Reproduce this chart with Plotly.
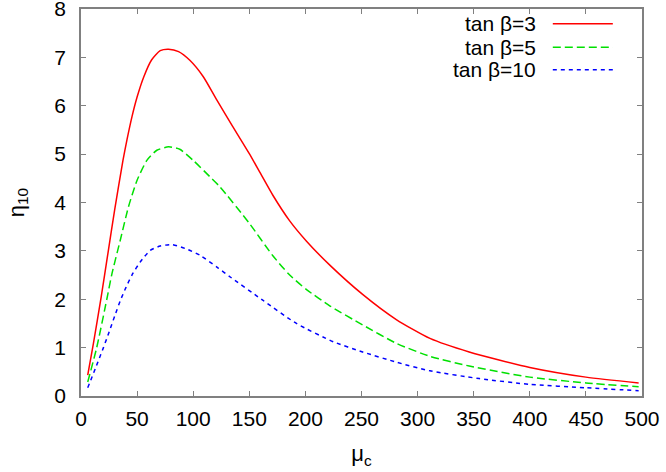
import plotly.graph_objects as go

FONT = "Liberation Sans, Arial, sans-serif"

# tan(beta) = 3
mu_3 = [6, 11, 18, 24, 30, 37.4, 41, 45.4, 50, 56, 63, 70.6, 78, 87, 97, 109, 121,
        135, 150, 160, 171, 186, 201, 222, 251, 281, 311, 346, 400, 450, 497]
eta_3 = [0.43, 1.08, 2.05, 2.95, 3.85, 4.87, 5.30, 5.77, 6.18, 6.60, 6.95, 7.14, 7.17,
         7.12, 6.94, 6.60, 6.12, 5.58, 5.01, 4.60, 4.15, 3.62, 3.20, 2.70, 2.10,
         1.58, 1.19, 0.91, 0.59, 0.39, 0.27]

# tan(beta) = 5
mu_5 = [6, 14, 23, 27.6, 35, 42.3, 50, 58.7, 67.6, 78, 88, 100, 115, 124, 150,
        171, 186, 201, 222, 251, 281, 311, 346, 400, 450, 497]
eta_5 = [0.29, 1.0, 2.0, 2.53, 3.22, 3.91, 4.46, 4.87, 5.08, 5.15, 5.10, 4.87,
         4.53, 4.32, 3.57, 2.90, 2.50, 2.20, 1.86, 1.47, 1.09, 0.82, 0.62, 0.39,
         0.27, 0.19]

# tan(beta) = 10
mu_10 = [6, 15, 20, 25, 30, 35, 40, 45.4, 52.8, 61.7, 70.6, 81, 92.8, 106, 122,
         133, 162, 192, 225, 251, 281, 311, 355, 400, 450, 497]
eta_10 = [0.17, 0.70, 1.0, 1.32, 1.65, 1.97, 2.24, 2.50, 2.77, 3.01, 3.10, 3.13,
          3.05, 2.91, 2.65, 2.46, 1.98, 1.50, 1.12, 0.91, 0.70, 0.52, 0.36, 0.24,
          0.17, 0.11]

names = ["tan β=3", "tan β=5", "tan β=10"]
colors = ["#ff0000", "#00e000", "#0000ff"]
dashes = ["solid", "8px,4px", "4px,4px"]

series = [(mu_3, eta_3), (mu_5, eta_5), (mu_10, eta_10)]

fig = go.Figure()
for (x, y), name, color, dash in zip(series, names, colors, dashes):
    fig.add_trace(go.Scatter(
        x=x, y=y, name=name, mode="lines",
        line=dict(color=color, width=1.5, dash=dash, shape="spline", smoothing=0.6),
        showlegend=False,
    ))

# gnuplot-style key: right-aligned text with the line sample to its right
key_y = [0.962, 0.901, 0.843]
for name, color, dash, yk in zip(names, colors, dashes, key_y):
    fig.add_annotation(
        x=0.815, y=yk, xref="paper", yref="paper", text=name, showarrow=False,
        xanchor="right", yanchor="middle", font=dict(family=FONT, size=21, color="black"),
    )
    fig.add_shape(
        type="line", xref="paper", yref="paper", x0=0.841, x1=0.948, y0=yk, y1=yk,
        line=dict(color=color, width=1.5, dash=dash),
    )

axis_common = dict(
    showline=True, linecolor="#808080", linewidth=1.5, mirror="allticks",
    ticks="inside", ticklen=5, tickcolor="#808080", tickwidth=1,
    showgrid=False, zeroline=False, automargin=False, ticklabeloverflow="allow",
    tickfont=dict(family=FONT, size=21, color="black"),
)

fig.update_xaxes(
    range=[0, 500], dtick=50, tick0=0, ticklabelstandoff=3,
    title=dict(text="μ<sub>c</sub>", font=dict(family=FONT, size=22, color="black"), standoff=17),
    **axis_common,
)
fig.update_yaxes(
    range=[0, 8], dtick=1, tick0=0, ticklabelstandoff=9,
    title=dict(text="η<sub>10</sub>", font=dict(family=FONT, size=22, color="black"), standoff=24),
    **axis_common,
)

fig.update_layout(
    width=666, height=472,
    margin=dict(l=81, r=24, t=9, b=76),
    paper_bgcolor="white", plot_bgcolor="white",
    font=dict(family=FONT),
)

# drop the browser's default 8px body margin so the figure fills the window
fig.write_html(
    "out.html",
    config={"displayModeBar": False},
    post_script="document.body.style.margin='0';",
)
